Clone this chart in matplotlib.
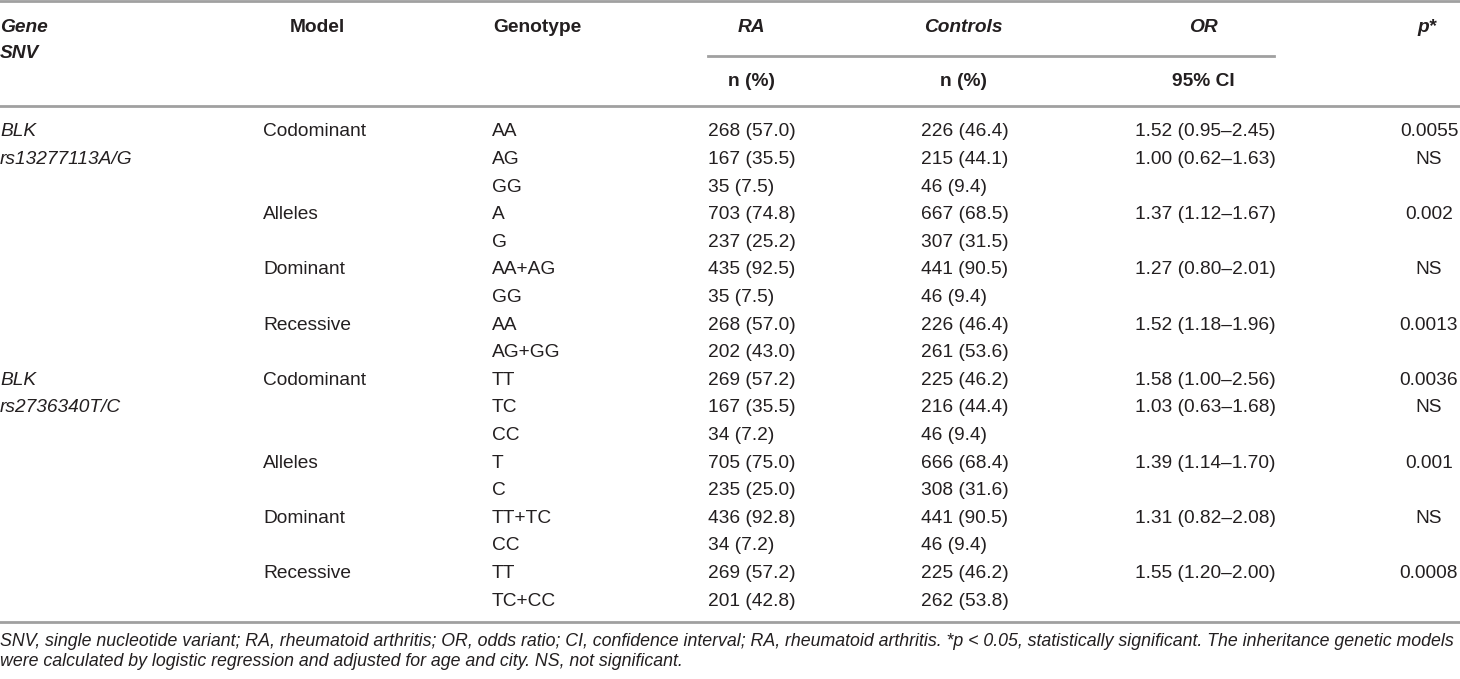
import matplotlib
matplotlib.use("Agg")
import matplotlib.pyplot as plt

# table content, one entry per data row
snv_names = ["rs13277113A/G", "rs2736340T/C"]
gene_name = "BLK"
models = ["Codominant", "", "", "Alleles", "", "Dominant", "", "Recessive", ""]

genotypes = [
    ["AA", "AG", "GG", "A", "G", "AA+AG", "GG", "AA", "AG+GG"],
    ["TT", "TC", "CC", "T", "C", "TT+TC", "CC", "TT", "TC+CC"],
]
ra_counts = [
    ["268 (57.0)", "167 (35.5)", "35 (7.5)", "703 (74.8)", "237 (25.2)",
     "435 (92.5)", "35 (7.5)", "268 (57.0)", "202 (43.0)"],
    ["269 (57.2)", "167 (35.5)", "34 (7.2)", "705 (75.0)", "235 (25.0)",
     "436 (92.8)", "34 (7.2)", "269 (57.2)", "201 (42.8)"],
]
control_counts = [
    ["226 (46.4)", "215 (44.1)", "46 (9.4)", "667 (68.5)", "307 (31.5)",
     "441 (90.5)", "46 (9.4)", "226 (46.4)", "261 (53.6)"],
    ["225 (46.2)", "216 (44.4)", "46 (9.4)", "666 (68.4)", "308 (31.6)",
     "441 (90.5)", "46 (9.4)", "225 (46.2)", "262 (53.8)"],
]
odds_ratios = [
    ["1.52 (0.95–2.45)", "1.00 (0.62–1.63)", "", "1.37 (1.12–1.67)", "",
     "1.27 (0.80–2.01)", "", "1.52 (1.18–1.96)", ""],
    ["1.58 (1.00–2.56)", "1.03 (0.63–1.68)", "", "1.39 (1.14–1.70)", "",
     "1.31 (0.82–2.08)", "", "1.55 (1.20–2.00)", ""],
]
p_values = [
    ["0.0055", "NS", "", "0.002", "", "NS", "", "0.0013", ""],
    ["0.0036", "NS", "", "0.001", "", "NS", "", "0.0008", ""],
]

footnote_1 = ("SNV, single nucleotide variant; RA, rheumatoid arthritis; OR, odds ratio; "
              "CI, confidence interval; RA, rheumatoid arthritis. *p < 0.05, statistically "
              "significant. The inheritance genetic models")
footnote_2 = ("were calculated by logistic regression and adjusted for age and city. "
              "NS, not significant.")

plt.rcParams["font.family"] = ["Liberation Sans", "DejaVu Sans"]
FS = 13.8
TXT = "#231f20"
LINE = "#a0a0a0"

fig = plt.figure(figsize=(14.6, 6.79), dpi=100)
ax = fig.add_axes([0, 0, 1, 1])
ax.set_xlim(0, 1460)
ax.set_ylim(679, 0)
ax.axis("off")


def put(x, y, s, ha="left", size=FS, **kw):
    ax.text(x, y, s, ha=ha, va="center", fontsize=size, color=TXT, **kw)


# header
put(0, 27, "Gene", weight="bold", style="italic")
put(0, 54, "SNV", weight="bold", style="italic")
put(317, 27, "Model", ha="center", weight="bold")
put(493, 27, "Genotype", weight="bold")
put(751, 27, "RA", ha="center", weight="bold", style="italic")
put(963, 27, "Controls", ha="center", weight="bold", style="italic")
put(1203, 27, "OR", ha="center", weight="bold", style="italic")
put(1427, 27, "p*", ha="center", weight="bold", style="italic")
put(751, 82, "n (%)", ha="center", weight="bold")
put(963, 82, "n (%)", ha="center", weight="bold")
put(1203, 82, "95% CI", ha="center", weight="bold")

ax.plot([0, 1460], [1, 1], color=LINE, lw=2)
ax.plot([708, 1274], [56, 56], color=LINE, lw=2)
ax.plot([0, 1460], [106, 106], color=LINE, lw=2)

# body
y0, step = 132, 27.6
row = 0
for k, snv in enumerate(snv_names):
    put(0, y0 + step * row, gene_name, style="italic")
    put(0, y0 + step * (row + 1), snv, style="italic")
    for i in range(len(models)):
        y = y0 + step * row
        put(263, y, models[i])
        put(492, y, genotypes[k][i])
        put(708, y, ra_counts[k][i])
        put(921, y, control_counts[k][i])
        put(1135, y, odds_ratios[k][i])
        put(1429, y, p_values[k][i], ha="center")
        row += 1

ax.plot([0, 1460], [622, 622], color=LINE, lw=2)

put(0, 641, footnote_1, style="italic", size=12.75)
put(0, 661, footnote_2, style="italic", size=12.75)

fig.savefig("out.png", dpi=100)
